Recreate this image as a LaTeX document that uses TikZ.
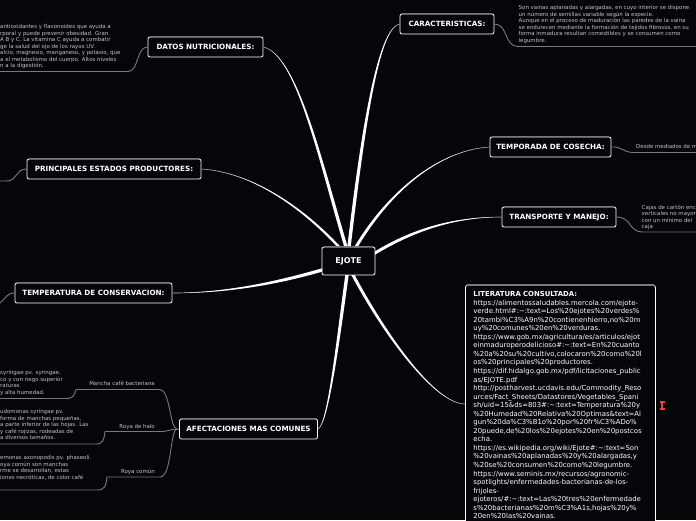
\documentclass[tikz,border=0pt]{standalone}
\usepackage{fontspec}
\setmainfont{DejaVu Sans}
\usetikzlibrary{calc}
\definecolor{bgdark}{HTML}{05060A}
\definecolor{twig}{HTML}{7A7A7A}
\definecolor{bodytxt}{HTML}{C4C4C4}
\definecolor{cursorred}{HTML}{E8403A}
\tikzset{
  boxed/.style  = {draw=white, fill=bgdark, rounded corners=2pt, line width=0.8pt, text=white},
  topic/.style  = {boxed, font=\fontsize{7.2}{9}\selectfont\bfseries, inner sep=0pt,
                   text height=5.3, text depth=0, minimum height=20},
  root/.style   = {topic, font=\fontsize{8}{10}\selectfont\bfseries, text height=5.8,
                   minimum height=28, minimum width=53},
  note/.style   = {anchor=north west, align=left, inner sep=0pt, text=bodytxt,
                   font=\fontsize{5.45}{6.5}\selectfont},
  sub/.style    = {anchor=base east, inner sep=0pt, text=bodytxt, font=\fontsize{5.45}{7}\selectfont},
  refs/.style   = {boxed, anchor=north west, align=left, text width=174, inner xsep=8, inner ysep=6,
                   font=\fontsize{6.9}{8.55}\selectfont\bfseries},
  limb/.style   = {fill=white},
  hair/.style   = {draw=twig, line width=0.7pt},
  twigl/.style  = {draw=twig, line width=0.9pt},
  edgecap/.style= {draw=twig, line width=1.2pt},
}
% tapered branch: root point, offset, child, control by root, control by child
\newcommand{\limbdraw}[5]{%
  \draw[hair] (#1) .. controls #4 and #5 .. (#3);
  \fill[limb] ($(#1)+#2$) .. controls ($#4+#2$) and ($#5+0.3*#2$) .. (#3)
    .. controls ($#5-0.3*#2$) and ($#4-#2$) .. ($(#1)-#2$) -- cycle;
}
\begin{document}
\begin{tikzpicture}[x=1pt, y=-1pt]
  \useasboundingbox (0,0) rectangle (696,520);
  \clip (0,0) rectangle (696,520);
  \fill[bgdark] (0,0) rectangle (696,520);
  % anchors of the outer lines
  \coordinate (e1) at (0,71.5);
  \coordinate (e2) at (0,181);
  \coordinate (e3) at (0,303);
  \coordinate (e4) at (0,398.5);
  \coordinate (e5) at (0,444);
  \coordinate (e6) at (0,490);
  \coordinate (e7) at (696,46.5);
  \coordinate (e8) at (696,152.5);
  \coordinate (e9) at (696,232);
  \coordinate (m1) at (76,389.5);
  \coordinate (m2) at (105,431.5);
  \coordinate (m3) at (107,477);
  \coordinate (hub) at (177,429);
  \coordinate (litport) at (465,404);
  % where the branches leave the centre
  \coordinate (r1) at (346,247);
  \coordinate (r2) at (349,247);
  \coordinate (r3) at (356,247);
  \coordinate (r4) at (375,253);
  \coordinate (r5) at (339,247);
  \coordinate (r6) at (322,270);
  \coordinate (r7) at (347,275);
  \coordinate (r8) at (353,275);
  % nodes
  \node[root]  (ejote) at (348.5,261) {EJOTE};
  \node[topic, minimum width=115] (datos) at (205.5,47) {DATOS NUTRICIONALES:};
  \node[topic, minimum width=174] (prod)  at (114,169) {PRINCIPALES ESTADOS PRODUCTORES:};
  \node[topic, minimum width=157] (temp)  at (93.5,293) {TEMPERATURA DE CONSERVACION:};
  \node[topic, minimum width=138] (afec)  at (248.5,429) {AFECTACIONES MAS COMUNES};
  \node[topic, minimum width=94]  (carac) at (447,24) {CARACTERISTICAS:};
  \node[topic, minimum width=121] (cosecha) at (550.5,147) {TEMPORADA DE COSECHA:};
  \node[topic, minimum width=114] (manejo)  at (559,217) {TRANSPORTE Y MANEJO:};
  \node[refs] (lit) at (465,285) {LITERATURA CONSULTADA:\\
    {\mdseries https://alimentossaludables.mercola.com/ejote-}\\
    {\mdseries verde.html\#:\textasciitilde:text=Los\%20ejotes\%20verdes\%}\\
    {\mdseries 20tambi\%C3\%A9n\%20contienenhierro,no\%20m}\\
    {\mdseries uy\%20comunes\%20en\%20verduras.}\\
    {\mdseries https://www.gob.mx/agricultura/es/articulos/ejot}\\
    {\mdseries einmaduroperodelicioso\#:\textasciitilde:text=En\%20cuanto}\\
    {\mdseries \%20a\%20su\%20cultivo,colocaron\%20como\%20l}\\
    {\mdseries os\%20principales\%20productores.}\\
    {\mdseries https://dif.hidalgo.gob.mx/pdf/licitaciones\_public}\\
    {\mdseries as/EJOTE.pdf}\\
    {\mdseries http://postharvest.ucdavis.edu/Commodity\_Reso}\\
    {\mdseries urces/Fact\_Sheets/Datastores/Vegetables\_Spani}\\
    {\mdseries sh/uid=15\&ds=803\#:\textasciitilde:text=Temperatura\%20y}\\
    {\mdseries \%20Humedad\%20Relativa\%20Optimas\&text=Al}\\
    {\mdseries gun\%20da\%C3\%B1o\%20por\%20fr\%C3\%ADo\%}\\
    {\mdseries 20puede,de\%20los\%20ejotes\%20en\%20postcos}\\
    {\mdseries echa.}\\
    {\mdseries https://es.wikipedia.org/wiki/Ejote\#:\textasciitilde:text=Son}\\
    {\mdseries \%20vainas\%20aplanadas\%20y\%20alargadas,y}\\
    {\mdseries \%20se\%20consumen\%20como\%20legumbre.}\\
    {\mdseries https://www.seminis.mx/recursos/agronomic-}\\
    {\mdseries spotlights/enfermedades-bacterianas-de-los-}\\
    {\mdseries frijoles-}\\
    {\mdseries ejoteros/\#:\textasciitilde:text=Las\%20tres\%20enfermedade}\\
    {\mdseries s\%20bacterianas\%20m\%C3\%A1s,hojas\%20y\%}\\
    {\mdseries 20en\%20las\%20vainas.}};
  % main branches
  \limbdraw{r1}{(1.7,0)}{datos.east}{(320,160)}{(297,55)}
  \limbdraw{r2}{(1.7,0)}{carac.west}{(365,110)}{(380,28)}
  \limbdraw{r3}{(1.7,0)}{cosecha.west}{(390,190)}{(440,150)}
  \limbdraw{r4}{(0,1.7)}{manejo.west}{(410,232)}{(450,217)}
  \limbdraw{r5}{(1.7,0)}{prod.east}{(300,205)}{(250,172)}
  \limbdraw{r6}{(0,1.7)}{temp.east}{(280,282)}{(230,293)}
  \limbdraw{r7}{(1.7,0)}{afec.east}{(338,340)}{(328,425)}
  \limbdraw{r8}{(1.7,0)}{litport}{(385,335)}{(435,404)}
  % notes
  \node[note] (n1) at (0,24.5) {antioxidantes y flavonoides que ayuda a\\
    rporal y puede prevenir obesidad. Gran\\
    A B y C. La vitamina C ayuda a combatir\\
    ge la salud del ojo de los rayos UV.\\
    alcio, magnesio, manganeso, y potasio, que\\
    a el metabolismo del cuerpo. Altos niveles\\
    n a la digestión.};
  \node[note] (n4) at (0,370.5) {syringae pv. syringae.\\
    co y con riego superior\\
    raturas\\
    y alta humedad.};
  \node[note] (n5) at (0,409.5) {udomonas syringae pv.\\
    forma de manchas pequeñas,\\
    a parte inferior de las hojas. Las\\
    y café rojizas, rodeadas de\\
    a diversos tamaños.};
  \node[note] (n6) at (0,455.5) {emonas axonopodis pv. phaseoli.\\
    oya común son manchas\\
    rme se desarrollan, estas\\
    iones necróticas, de color café};
  \node[note] (n7) at (518.5,5.5) {Son vainas aplanadas y alargadas, en cuyo interior se dispone\\
    un número de semillas variable según la especie.\\
    Aunque en el proceso de maduración las paredes de la vaina\\
    se endurecen mediante la formación de tejidos fibrosos, en su\\
    forma inmadura resultan comestibles y se consumen como\\
    legumbre.};
  \node[note] (n8) at (636,144.5) {Desde mediados de m};
  \node[note] (n9) at (641.5,204.5) {Cajas de cartón enc\\
    verticales no mayor\\
    con un mínimo del\\
    caja};
  \node[sub] (s1) at (155,385) {Mancha café bacteriana};
  \node[sub] (s2) at (155,428) {Roya de halo};
  \node[sub] (s3) at (155,473) {Roya común};
  % outer lines
  \draw[twigl] (datos.west) .. controls (136,47) and (139,71.5) .. (128,71.5) -- (e1);
  \draw[twigl] (prod.west) .. controls (15,169) and (18,181) .. (6,181) -- (e2);
  \draw[twigl] (temp.west) .. controls (7,293) and (6,298) .. (e3);
  \draw[twigl] (carac.east) .. controls (508,24) and (504,46.5) .. (518,46.5) -- (e7);
  \draw[twigl] (cosecha.east) .. controls (622,146) and (622,152.5) .. (634,152.5) -- (e8);
  \draw[twigl] (manejo.east) .. controls (632,217) and (628,232) .. (643,232) -- (e9);
  % disease lines
  \draw[hair] (afec.west) -- (hub);
  \draw[twigl] (hub) .. controls (170,429) and (170,389.5) .. (160,389.5) -- (m1);
  \draw[twigl] (hub) .. controls (170,429) and (170,431.5) .. (160,431.5) -- (m2);
  \draw[twigl] (hub) .. controls (170,429) and (172,477) .. (160,477) -- (m3);
  \draw[twigl] (m1) .. controls (74,395) and (74,398.5) .. (66,398.5) -- (e4);
  \draw[twigl] (m2) .. controls (104,440) and (103,444) .. (96,444) -- (e5);
  \draw[twigl] (m3) .. controls (106,486) and (105,490) .. (97,490) -- (e6);
  % grey upper edges
  \foreach \nm in {ejote, datos, prod, temp, afec, carac, cosecha, manejo, lit}
    \draw[edgecap] ([xshift=2pt]\nm.north west) -- ([xshift=-2pt]\nm.north east);
  % red cursor mark
  \draw[cursorred, line width=2pt] (659.5,401.5) -- (665,401.5) (662.25,401.5) -- (662.25,408.5) (659.5,408.5) -- (665,408.5);
\end{tikzpicture}
\end{document}
